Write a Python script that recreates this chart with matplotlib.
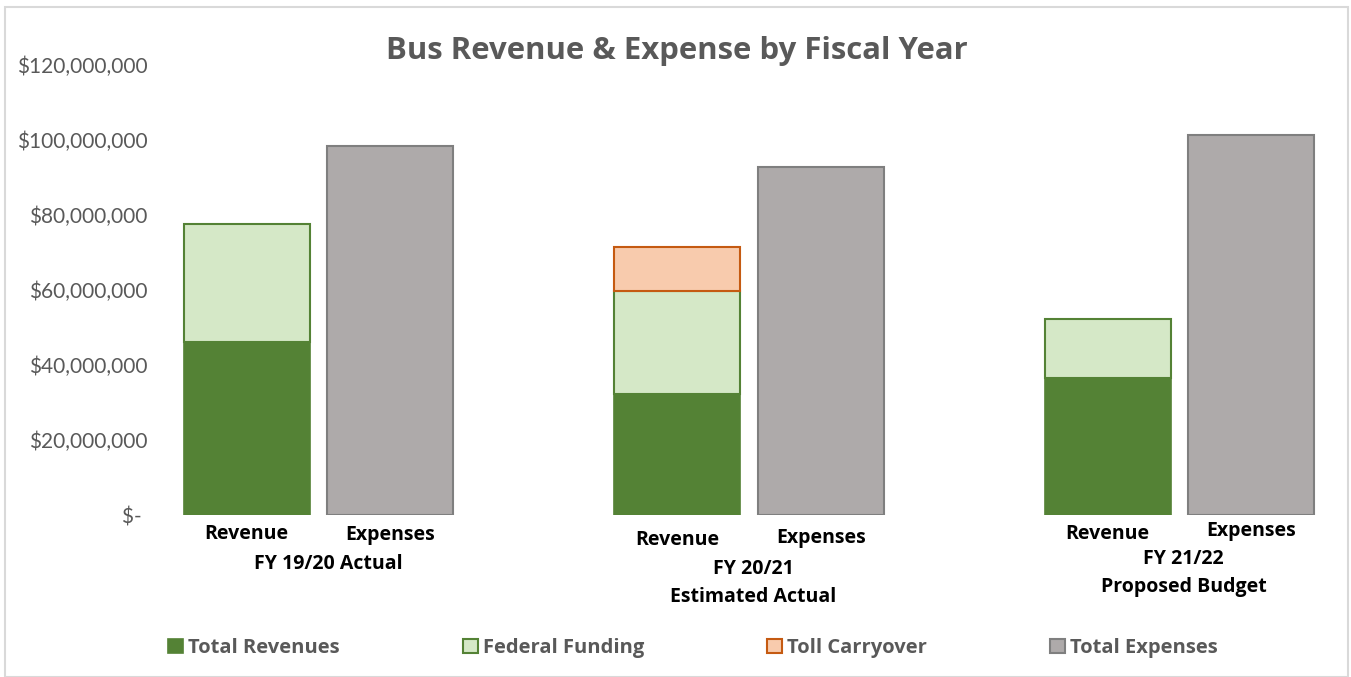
import matplotlib
matplotlib.use("Agg")
import matplotlib.pyplot as plt
from matplotlib.patches import Rectangle
from matplotlib.ticker import FuncFormatter

# Fiscal-year groups and the two columns in each group
groups = ["FY 19/20 Actual", "FY 20/21\nEstimated Actual", "FY 21/22\nProposed Budget"]
sub_labels = ["Revenue", "Expenses"]

# Dollar amounts per fiscal year
total_revenues = [46.1e6, 32.3e6, 36.5e6]
federal_funding = [31.5e6, 27.4e6, 15.8e6]
toll_carryover = [0.0, 11.8e6, 0.0]
total_expenses = [98.4e6, 92.8e6, 101.3e6]

y_ticks = [0, 20e6, 40e6, 60e6, 80e6, 100e6, 120e6]

GREEN = "#548235"
LIGHT_GREEN = "#D5E8C7"
PEACH = "#F8CBAD"
ORANGE = "#C55A11"
GREY = "#AEAAAA"
GREY_EDGE = "#7F7F7F"
TEXT_GREY = "#595959"

plt.rcParams["font.family"] = ["Lato", "DejaVu Sans"]
BOLD = ["Open Sans", "DejaVu Sans"]

W, H = 1351, 677
fig = plt.figure(figsize=(W / 100, H / 100), dpi=100)

# plot area in pixel terms: x from 175 to 1323, y baseline 515, top 65
ax = fig.add_axes([175 / W, (H - 515) / H, 1148 / W, 450 / H])
ax.set_xlim(-0.5, 7.5)
ax.set_ylim(0, 120e6)

rev_x = [3 * i for i in range(len(groups))]
exp_x = [3 * i + 1 for i in range(len(groups))]
bw = 0.875

h_rev = ax.bar(rev_x, total_revenues, width=bw, color=GREEN, edgecolor=GREEN,
               linewidth=1.2, label="Total Revenues")

fed_idx = [i for i, v in enumerate(federal_funding) if v > 0]
h_fed = ax.bar([rev_x[i] for i in fed_idx], [federal_funding[i] for i in fed_idx],
               bottom=[total_revenues[i] for i in fed_idx], width=bw,
               color=LIGHT_GREEN, edgecolor=GREEN, linewidth=1.5, label="Federal Funding")

toll_idx = [i for i, v in enumerate(toll_carryover) if v > 0]
h_toll = ax.bar([rev_x[i] for i in toll_idx], [toll_carryover[i] for i in toll_idx],
                bottom=[total_revenues[i] + federal_funding[i] for i in toll_idx],
                width=bw, color=PEACH, edgecolor=ORANGE, linewidth=1.5,
                label="Toll Carryover")

h_exp = ax.bar(exp_x, total_expenses, width=bw, color=GREY, edgecolor=GREY_EDGE,
               linewidth=1.5, label="Total Expenses")

for s in ax.spines.values():
    s.set_visible(False)

ax.set_yticks(y_ticks)


def money(v, _pos):
    if v == 0:
        return "$- "
    return f"${v:,.0f}"


ax.yaxis.set_major_formatter(FuncFormatter(money))
ax.tick_params(axis="y", length=0, pad=20, labelsize=15, labelcolor=TEXT_GREY)
ax.set_xticks([])


# category labels below the columns (pixel rows converted to axes fraction)
def ay(py):
    return (515 - py) / 450


sub_y = [(534, 535), (540, 538), (534, 531)]
grp_rows = [[564], [569, 597], [559, 587]]
grp_cx = [0.57, 3.53, 6.53]
trans = ax.get_xaxis_transform()
for i in range(len(groups)):
    ax.text(rev_x[i], ay(sub_y[i][0]), sub_labels[0], transform=trans, ha="center",
            va="center", fontsize=14, fontweight="bold", color="black", family=BOLD)
    ax.text(exp_x[i], ay(sub_y[i][1]), sub_labels[1], transform=trans, ha="center",
            va="center", fontsize=14, fontweight="bold", color="black", family=BOLD)
    for line, py in zip(groups[i].split("\n"), grp_rows[i]):
        ax.text(grp_cx[i], ay(py), line, transform=trans, ha="center",
                va="center", fontsize=14, fontweight="bold", color="black",
                family=BOLD)

fig.text(677 / W, 1 - 51 / H, "Bus Revenue & Expense by Fiscal Year",
         ha="center", va="center", fontsize=22.4, fontweight="bold", color=TEXT_GREY,
         family=BOLD)

leg = fig.legend(handles=[h_rev, h_fed, h_toll, h_exp], loc="center",
                 bbox_to_anchor=(693 / W, 1 - 648 / H), ncol=4, frameon=False,
                 handlelength=0.75, handleheight=0.75, handletextpad=0.25,
                 columnspacing=6.1,
                 prop={"size": 14.5, "weight": "bold", "family": BOLD})
for t in leg.get_texts():
    t.set_color(TEXT_GREY)

# light chart border
fig.add_artist(Rectangle((5 / W, 0), (1348 - 5) / W, 1 - 7 / H,
                         transform=fig.transFigure, fill=False,
                         edgecolor="#D9D9D9", linewidth=1.5))

fig.savefig("out.png", dpi=100)
